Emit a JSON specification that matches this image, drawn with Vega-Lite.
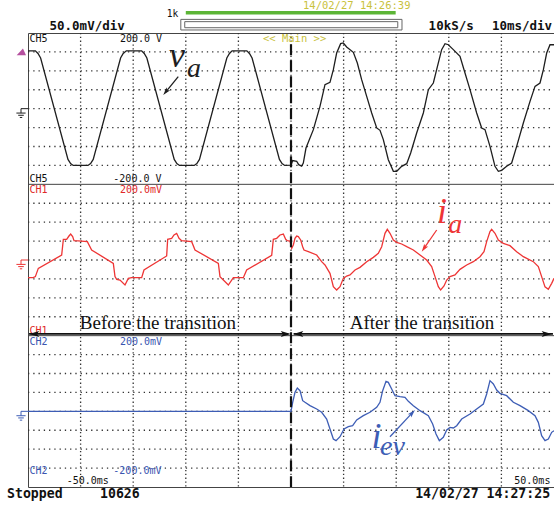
{
"$schema":"https://vega.github.io/schema/vega-lite/v6.json",
"width":526,"height":454,
"autosize":{"type":"none"},
"padding":{"left":28,"top":33,"right":0,"bottom":19},
"background":"white",
"config":{"view":{"stroke":"#444","strokeWidth":1}},
"datasets":{
"vgrid":[{"t":-40},{"t":-30},{"t":-20},{"t":-10},{"t":0},{"t":10},{"t":20},{"t":30},{"t":40}],
"hgrid":[{"d":11},{"d":10},{"d":9},{"d":8},{"d":7},{"d":6},{"d":5},{"d":3},{"d":2},{"d":1},{"d":0},{"d":-1},{"d":-2},{"d":-3},{"d":-5},{"d":-6},{"d":-7},{"d":-8},{"d":-9},{"d":-10},{"d":-11}],
"sep":[{"d":4},{"d":-4}],
"traces":[
{"ch":"CH5","t":-50,"v":153},{"ch":"CH5","t":-48.6,"v":153},{"ch":"CH5","t":-48.1,"v":146},{"ch":"CH5","t":-47.6,"v":134},{"ch":"CH5","t":-42.4,"v":-134},{"ch":"CH5","t":-41.9,"v":-145},{"ch":"CH5","t":-41.4,"v":-150},{"ch":"CH5","t":-38.6,"v":-150},{"ch":"CH5","t":-38.1,"v":-145},{"ch":"CH5","t":-37.6,"v":-134},{"ch":"CH5","t":-32.4,"v":134},{"ch":"CH5","t":-31.9,"v":146},{"ch":"CH5","t":-31.3,"v":153},{"ch":"CH5","t":-28.4,"v":153},{"ch":"CH5","t":-27.9,"v":146},{"ch":"CH5","t":-27.4,"v":134},{"ch":"CH5","t":-22.2,"v":-134},{"ch":"CH5","t":-21.7,"v":-145},{"ch":"CH5","t":-21.2,"v":-150},{"ch":"CH5","t":-18.4,"v":-150},{"ch":"CH5","t":-17.9,"v":-145},{"ch":"CH5","t":-17.4,"v":-134},{"ch":"CH5","t":-12.2,"v":134},{"ch":"CH5","t":-11.7,"v":146},{"ch":"CH5","t":-11.2,"v":153},{"ch":"CH5","t":-8.4,"v":153},{"ch":"CH5","t":-7.9,"v":146},{"ch":"CH5","t":-7.4,"v":134},{"ch":"CH5","t":-2.2,"v":-134},{"ch":"CH5","t":-1.7,"v":-145},{"ch":"CH5","t":-1.2,"v":-150},{"ch":"CH5","t":0,"v":-149},
{"ch":"CH5","t":0.32,"v":-137},{"ch":"CH5","t":1.08,"v":-139},{"ch":"CH5","t":1.46,"v":-148},{"ch":"CH5","t":2.03,"v":-152},{"ch":"CH5","t":2.34,"v":-144},{"ch":"CH5","t":2.85,"v":-104},{"ch":"CH5","t":4.25,"v":-55.5},{"ch":"CH5","t":5.51,"v":6.1},{"ch":"CH5","t":6.46,"v":63.4},{"ch":"CH5","t":7.41,"v":69.6},{"ch":"CH5","t":8.05,"v":103},{"ch":"CH5","t":8.68,"v":147},{"ch":"CH5","t":9.44,"v":171.8},{"ch":"CH5","t":9.95,"v":173.6},{"ch":"CH5","t":10.58,"v":163},{"ch":"CH5","t":11.85,"v":148.9},{"ch":"CH5","t":12.61,"v":120.7},{"ch":"CH5","t":13.43,"v":76.6},{"ch":"CH5","t":14.39,"v":32.6},{"ch":"CH5","t":15.34,"v":-11.4},{"ch":"CH5","t":16.29,"v":-51},{"ch":"CH5","t":16.92,"v":-57.3},{"ch":"CH5","t":17.55,"v":-81.9},{"ch":"CH5","t":18.5,"v":-134.8},{"ch":"CH5","t":19.46,"v":-165.6},{"ch":"CH5","t":20.1,"v":-165.6},{"ch":"CH5","t":21.04,"v":-152.4},{"ch":"CH5","t":22.0,"v":-145.4},{"ch":"CH5","t":22.75,"v":-117},{"ch":"CH5","t":23.89,"v":-64.3},{"ch":"CH5","t":25.16,"v":-11.4},{"ch":"CH5","t":26.11,"v":50.2},{"ch":"CH5","t":27.06,"v":67.8},{"ch":"CH5","t":27.69,"v":103},{"ch":"CH5","t":28.64,"v":156},{"ch":"CH5","t":29.28,"v":171.8},{"ch":"CH5","t":29.91,"v":169},{"ch":"CH5","t":30.86,"v":156},{"ch":"CH5","t":32.13,"v":138.3},{"ch":"CH5","t":33.08,"v":94.3},{"ch":"CH5","t":34.03,"v":50.2},{"ch":"CH5","t":35.3,"v":-11.4},{"ch":"CH5","t":36.25,"v":-51},{"ch":"CH5","t":36.88,"v":-55.5},{"ch":"CH5","t":37.83,"v":-99.6},{"ch":"CH5","t":38.78,"v":-152.4},{"ch":"CH5","t":39.42,"v":-165.6},{"ch":"CH5","t":40.05,"v":-163},{"ch":"CH5","t":41.0,"v":-152.4},{"ch":"CH5","t":41.95,"v":-143.6},{"ch":"CH5","t":42.9,"v":-99.6},{"ch":"CH5","t":44.17,"v":-37.9},{"ch":"CH5","t":45.44,"v":19.4},{"ch":"CH5","t":46.39,"v":59},{"ch":"CH5","t":47.34,"v":67.8},{"ch":"CH5","t":47.98,"v":103},{"ch":"CH5","t":48.61,"v":147},{"ch":"CH5","t":49.24,"v":169},{"ch":"CH5","t":50,"v":169},
{"ch":"CH1","t":-50,"v":-46.7},{"ch":"CH1","t":-49.0,"v":-46.7},{"ch":"CH1","t":-48.6,"v":-44},{"ch":"CH1","t":-48.04,"v":-22},{"ch":"CH1","t":-43.6,"v":13.2},{"ch":"CH1","t":-43.28,"v":54.6},{"ch":"CH1","t":-42.65,"v":54.6},{"ch":"CH1","t":-42.21,"v":63.4},{"ch":"CH1","t":-41.89,"v":68.7},{"ch":"CH1","t":-41.51,"v":61.7},{"ch":"CH1","t":-41.25,"v":51.1},{"ch":"CH1","t":-40.43,"v":50.6},{"ch":"CH1","t":-38.72,"v":48.5},{"ch":"CH1","t":-37.9,"v":26.4},{"ch":"CH1","t":-33.78,"v":-8.8},{"ch":"CH1","t":-33.46,"v":-44},{"ch":"CH1","t":-33.14,"v":-51.1},{"ch":"CH1","t":-32.51,"v":-52.9},{"ch":"CH1","t":-31.56,"v":-66.1},{"ch":"CH1","t":-30.93,"v":-48.5},{"ch":"CH1","t":-30.29,"v":-46.7},{"ch":"CH1","t":-28.39,"v":-46.7},{"ch":"CH1","t":-27.95,"v":-26.4},{"ch":"CH1","t":-23.64,"v":10.6},{"ch":"CH1","t":-23.45,"v":54.6},{"ch":"CH1","t":-22.69,"v":57.3},{"ch":"CH1","t":-22.24,"v":66.1},{"ch":"CH1","t":-21.74,"v":70.5},{"ch":"CH1","t":-21.29,"v":57.3},{"ch":"CH1","t":-20.79,"v":51.1},{"ch":"CH1","t":-18.88,"v":48.5},{"ch":"CH1","t":-18.25,"v":26.4},{"ch":"CH1","t":-13.81,"v":-8.8},{"ch":"CH1","t":-13.5,"v":-44},{"ch":"CH1","t":-12.86,"v":-52.9},{"ch":"CH1","t":-11.91,"v":-66.1},{"ch":"CH1","t":-10.96,"v":-46.7},{"ch":"CH1","t":-9.06,"v":-46.7},{"ch":"CH1","t":-8.43,"v":-26.4},{"ch":"CH1","t":-3.67,"v":12.3},{"ch":"CH1","t":-3.36,"v":54.6},{"ch":"CH1","t":-2.72,"v":57.3},{"ch":"CH1","t":-2.09,"v":66.1},{"ch":"CH1","t":-1.46,"v":68.7},{"ch":"CH1","t":-1.01,"v":54.6},{"ch":"CH1","t":-0.7,"v":51.1},{"ch":"CH1","t":-0.19,"v":50},{"ch":"CH1","t":0.13,"v":30.8},{"ch":"CH1","t":0.44,"v":39.6},{"ch":"CH1","t":0.76,"v":57.3},{"ch":"CH1","t":1.08,"v":63.4},{"ch":"CH1","t":1.39,"v":61.7},{"ch":"CH1","t":1.84,"v":52.9},{"ch":"CH1","t":2.22,"v":35.2},{"ch":"CH1","t":2.47,"v":26.4},{"ch":"CH1","t":3.3,"v":22},{"ch":"CH1","t":4.88,"v":13.2},{"ch":"CH1","t":5.83,"v":-4.4},{"ch":"CH1","t":6.46,"v":-13.2},{"ch":"CH1","t":7.41,"v":-35.2},{"ch":"CH1","t":8.05,"v":-70.5},{"ch":"CH1","t":8.68,"v":-79.3},{"ch":"CH1","t":9.32,"v":-70.5},{"ch":"CH1","t":9.95,"v":-48.5},{"ch":"CH1","t":10.58,"v":-42.3},{"ch":"CH1","t":11.22,"v":-39.6},{"ch":"CH1","t":12.17,"v":-26.4},{"ch":"CH1","t":13.12,"v":-19.4},{"ch":"CH1","t":14.39,"v":-4.4},{"ch":"CH1","t":15.65,"v":7.0},{"ch":"CH1","t":16.6,"v":17.6},{"ch":"CH1","t":17.24,"v":35.2},{"ch":"CH1","t":17.87,"v":70.5},{"ch":"CH1","t":18.31,"v":81.1},{"ch":"CH1","t":18.82,"v":70.5},{"ch":"CH1","t":19.46,"v":52.9},{"ch":"CH1","t":20.1,"v":46.7},{"ch":"CH1","t":21.04,"v":42.3},{"ch":"CH1","t":22.0,"v":35.2},{"ch":"CH1","t":23.26,"v":26.4},{"ch":"CH1","t":24.53,"v":13.2},{"ch":"CH1","t":25.79,"v":0},{"ch":"CH1","t":26.74,"v":-17.6},{"ch":"CH1","t":27.38,"v":-44},{"ch":"CH1","t":28.01,"v":-70.5},{"ch":"CH1","t":28.45,"v":-79.3},{"ch":"CH1","t":29.09,"v":-68.7},{"ch":"CH1","t":29.6,"v":-52.9},{"ch":"CH1","t":30.23,"v":-44},{"ch":"CH1","t":31.18,"v":-39.6},{"ch":"CH1","t":32.13,"v":-24.7},{"ch":"CH1","t":33.4,"v":-13.2},{"ch":"CH1","t":34.66,"v":-4.4},{"ch":"CH1","t":35.93,"v":8.8},{"ch":"CH1","t":36.69,"v":22},{"ch":"CH1","t":37.2,"v":48.5},{"ch":"CH1","t":37.83,"v":74.9},{"ch":"CH1","t":38.15,"v":81.1},{"ch":"CH1","t":38.78,"v":70.5},{"ch":"CH1","t":39.42,"v":52.9},{"ch":"CH1","t":40.37,"v":44},{"ch":"CH1","t":41.63,"v":37.9},{"ch":"CH1","t":42.9,"v":22},{"ch":"CH1","t":44.17,"v":8.8},{"ch":"CH1","t":46.07,"v":-4.4},{"ch":"CH1","t":47.02,"v":-17.6},{"ch":"CH1","t":47.65,"v":-44},{"ch":"CH1","t":48.29,"v":-71},{"ch":"CH1","t":48.92,"v":-77.5},{"ch":"CH1","t":49.56,"v":-61.7},{"ch":"CH1","t":50,"v":-48.5},
{"ch":"CH2","t":-50,"v":0},{"ch":"CH2","t":0,"v":0},{"ch":"CH2","t":0.32,"v":23.8},{"ch":"CH2","t":0.76,"v":50.2},{"ch":"CH2","t":1.2,"v":61.7},{"ch":"CH2","t":1.71,"v":54.6},{"ch":"CH2","t":2.22,"v":28.2},{"ch":"CH2","t":2.66,"v":23.8},{"ch":"CH2","t":3.61,"v":15.0},{"ch":"CH2","t":4.88,"v":6.2},{"ch":"CH2","t":5.83,"v":-2.6},{"ch":"CH2","t":6.78,"v":-20.3},{"ch":"CH2","t":7.41,"v":-46.7},{"ch":"CH2","t":8.05,"v":-73.1},{"ch":"CH2","t":8.56,"v":-77.5},{"ch":"CH2","t":9.32,"v":-67},{"ch":"CH2","t":10.08,"v":-46.7},{"ch":"CH2","t":10.9,"v":-40.5},{"ch":"CH2","t":11.72,"v":-37.9},{"ch":"CH2","t":12.49,"v":-22.9},{"ch":"CH2","t":13.75,"v":-11.5},{"ch":"CH2","t":15.02,"v":-2.6},{"ch":"CH2","t":16.29,"v":10.6},{"ch":"CH2","t":16.92,"v":23.8},{"ch":"CH2","t":17.43,"v":54.6},{"ch":"CH2","t":18.06,"v":79.3},{"ch":"CH2","t":18.5,"v":76.6},{"ch":"CH2","t":19.14,"v":59},{"ch":"CH2","t":19.77,"v":41.4},{"ch":"CH2","t":20.72,"v":38.8},{"ch":"CH2","t":21.67,"v":37.0},{"ch":"CH2","t":22.31,"v":26.4},{"ch":"CH2","t":23.26,"v":15.0},{"ch":"CH2","t":24.53,"v":1.8},{"ch":"CH2","t":26.11,"v":-11.5},{"ch":"CH2","t":26.93,"v":-33.5},{"ch":"CH2","t":27.57,"v":-59.9},{"ch":"CH2","t":28.2,"v":-77.5},{"ch":"CH2","t":28.96,"v":-68.7},{"ch":"CH2","t":29.6,"v":-49.3},{"ch":"CH2","t":30.23,"v":-42.3},{"ch":"CH2","t":30.86,"v":-44},{"ch":"CH2","t":31.5,"v":-37.9},{"ch":"CH2","t":32.45,"v":-20.3},{"ch":"CH2","t":34.03,"v":-7.0},{"ch":"CH2","t":35.3,"v":6.2},{"ch":"CH2","t":36.57,"v":19.4},{"ch":"CH2","t":37.2,"v":45.8},{"ch":"CH2","t":37.83,"v":81.1},{"ch":"CH2","t":38.47,"v":72.2},{"ch":"CH2","t":39.1,"v":56.4},{"ch":"CH2","t":39.73,"v":47.6},{"ch":"CH2","t":41.0,"v":41.4},{"ch":"CH2","t":42.27,"v":23.8},{"ch":"CH2","t":43.54,"v":15.0},{"ch":"CH2","t":45.12,"v":1.8},{"ch":"CH2","t":46.39,"v":-11.5},{"ch":"CH2","t":47.02,"v":-29.1},{"ch":"CH2","t":47.65,"v":-64.3},{"ch":"CH2","t":48.29,"v":-77.5},{"ch":"CH2","t":48.92,"v":-73.1},{"ch":"CH2","t":49.56,"v":-55.5},{"ch":"CH2","t":50,"v":-51.1}
],
"grounds":[{"ch":"CH5","t":-51.33,"d":8},{"ch":"CH1","t":-51.33,"d":0},{"ch":"CH2","t":-51.33,"d":-8}],
"trigger":[{"t":-51.27,"d":11.0}],
"lblBlack":[{"t":-49.71,"d":11.55,"text":"CH5"},{"t":-32.51,"d":11.55,"text":"200.0 V"},{"t":-49.71,"d":4.14,"text":"CH5"},{"t":-33.78,"d":4.14,"text":"-200.0 V"},{"t":-42.64,"d":-11.86,"text":"-50.0ms"},{"t":42.45,"d":-11.86,"text":"50.0ms"}],
"lblRed":[{"t":-49.71,"d":3.55,"text":"CH1"},{"t":-32.51,"d":3.55,"text":"200.0mV"},{"t":-49.71,"d":-3.89,"text":"CH1"}],
"lblBlue":[{"t":-49.71,"d":-4.48,"text":"CH2"},{"t":-32.51,"d":-4.48,"text":"200.0mV"},{"t":-49.71,"d":-11.33,"text":"CH2"},{"t":-33.78,"d":-11.33,"text":"-200.0mV"}],
"lblYellow":[{"t":-5.32,"d":11.55,"text":"<< Main >>"},{"t":2.28,"d":13.27,"text":"14/02/27 14:26:39"}],
"header":[{"t":-45.91,"d":12.16,"text":"50.0mV/div"},{"t":26.16,"d":12.16,"text":"10kS/s"},{"t":38.2,"d":12.16,"text":"10ms/div"}],
"footer":[{"t":-53.99,"d":-12.56,"text":"Stopped"},{"t":-36.31,"d":-12.56,"text":"10626"},{"t":23.6,"d":-12.56,"text":"14/02/27 14:27:25"}],
"small":[{"t":-23.63,"d":12.86,"text":"1k"}],
"bar":[{"t":-20.0,"t2":19.9,"d":13.07}],
"box":[{"t":-20.95,"t2":21.1,"d":12.16,"d2":12.72},{"t":-20.2,"t2":20.3,"d":12.28,"d2":12.6}],
"span":[{"t":-49.8,"t2":-0.5,"d":-3.91},{"t":0.5,"t2":49.8,"d":-3.91}],
"headR":[{"t":-1.0,"d":-3.91},{"t":48.6,"d":-3.91}],
"headL":[{"t":-48.8,"d":-3.91},{"t":1.39,"d":-3.91}],
"trans":[{"t":0}],
"phase":[{"t":-25.3,"d":-3.65,"text":"Before the transition"},{"t":24.9,"d":-3.65,"text":"After the transition"}],
"shafts":[{"ch":"CH5","t":-21.43,"d":9.69,"t2":-23.8,"d2":8.886},{"ch":"CH1","t":27.7,"d":1.586,"t2":25.28,"d2":0.613},{"ch":"CH2","t":18.82,"d":-9.34,"t2":23.05,"d2":-8.08}],
"headVa":[{"t":-23.8,"d":8.886}],
"headIa":[{"t":25.28,"d":0.613}],
"headIev":[{"t":23.05,"d":-8.08}],
"names":[{"ch":"CH5","text":"v","role":"main","t":-23.19,"d":10.22},{"ch":"CH5","text":"a","role":"sub","t":-19.77,"d":9.69},{"ch":"CH1","text":"i","role":"main","t":27.76,"d":1.94},{"ch":"CH1","text":"a","role":"sub","t":29.91,"d":1.41},{"ch":"CH2","text":"i","role":"main","t":15.3,"d":-9.95},{"ch":"CH2","text":"ev","role":"sub","t":16.92,"d":-10.31}]
},
"layer":[
{"data":{"name":"vgrid"},"mark":{"type":"rule","color":"#333","strokeWidth":1.3,"strokeDash":[1.3,2.5]},"encoding":{
 "x":{"field":"t","type":"quantitative","scale":{"domain":[-50,50],"nice":false,"zero":false},"axis":null},
 "y":{"datum":12,"type":"quantitative","scale":{"domain":[-12,12],"nice":false,"zero":false},"axis":null},
 "y2":{"datum":-12}}},
{"data":{"name":"hgrid"},"mark":{"type":"rule","color":"#333","strokeWidth":1.3,"strokeDash":[1.3,3.96]},"encoding":{
 "x":{"datum":-50,"type":"quantitative","axis":null},"x2":{"datum":50},
 "y":{"field":"d","type":"quantitative","axis":null}}},
{"data":{"name":"sep"},"mark":{"type":"rule","color":"#444","strokeWidth":1},"encoding":{
 "x":{"datum":-50,"type":"quantitative","axis":null},"x2":{"datum":50},
 "y":{"field":"d","type":"quantitative","axis":null}}},
{"data":{"name":"traces"},"transform":[{"calculate":"datum.v / 50 + (datum.ch === 'CH5' ? 8 : (datum.ch === 'CH2' ? -8 : 0))","as":"d"}],"mark":{"type":"line","strokeWidth":1.3},"encoding":{
 "x":{"field":"t","type":"quantitative","axis":null},
 "y":{"field":"d","type":"quantitative","axis":null},
 "color":{"field":"ch","type":"nominal","scale":{"domain":["CH5","CH1","CH2"],"range":["#1e1e1e","#ee3535","#3d5db5"]},"legend":null}}},
{"data":{"name":"grounds"},"mark":{"type":"point","shape":"M0,0H1.8M0,0V1.1M-1.15,1.1H1.15M-0.7,1.65H0.7M-0.3,2.2H0.3","size":64,"filled":false,"strokeWidth":1,"opacity":1},"encoding":{
 "x":{"field":"t","type":"quantitative","axis":null},
 "y":{"field":"d","type":"quantitative","axis":null},
 "color":{"field":"ch","type":"nominal","legend":null}}},
{"data":{"name":"trigger"},"mark":{"type":"point","shape":"M-1,0.7L0.35,-0.75L1,0.7Z","size":88,"filled":true,"color":"#b5509f","opacity":1},"encoding":{
 "x":{"field":"t","type":"quantitative","axis":null},
 "y":{"field":"d","type":"quantitative","axis":null}}},
{"data":{"name":"lblBlack"},"mark":{"type":"text","font":"DejaVu Sans Mono","fontSize":10,"align":"left","baseline":"alphabetic","color":"#111"},"encoding":{
 "x":{"field":"t","type":"quantitative","axis":null},"y":{"field":"d","type":"quantitative","axis":null},"text":{"field":"text"}}},
{"data":{"name":"lblRed"},"mark":{"type":"text","font":"DejaVu Sans Mono","fontSize":10,"align":"left","baseline":"alphabetic","color":"#e02828"},"encoding":{
 "x":{"field":"t","type":"quantitative","axis":null},"y":{"field":"d","type":"quantitative","axis":null},"text":{"field":"text"}}},
{"data":{"name":"lblBlue"},"mark":{"type":"text","font":"DejaVu Sans Mono","fontSize":10,"align":"left","baseline":"alphabetic","color":"#3a55b0"},"encoding":{
 "x":{"field":"t","type":"quantitative","axis":null},"y":{"field":"d","type":"quantitative","axis":null},"text":{"field":"text"}}},
{"data":{"name":"lblYellow"},"mark":{"type":"text","font":"DejaVu Sans Mono","fontSize":10.5,"align":"left","baseline":"alphabetic","color":"#c9c23c"},"encoding":{
 "x":{"field":"t","type":"quantitative","axis":null},"y":{"field":"d","type":"quantitative","axis":null},"text":{"field":"text"}}},
{"data":{"name":"header"},"mark":{"type":"text","font":"DejaVu Sans Mono","fontSize":12.5,"fontWeight":"bold","align":"left","baseline":"alphabetic","color":"#111"},"encoding":{
 "x":{"field":"t","type":"quantitative","axis":null},"y":{"field":"d","type":"quantitative","axis":null},"text":{"field":"text"}}},
{"data":{"name":"footer"},"mark":{"type":"text","font":"DejaVu Sans Mono","fontSize":13.2,"fontWeight":"bold","align":"left","baseline":"alphabetic","color":"#111"},"encoding":{
 "x":{"field":"t","type":"quantitative","axis":null},"y":{"field":"d","type":"quantitative","axis":null},"text":{"field":"text"}}},
{"data":{"name":"small"},"mark":{"type":"text","font":"DejaVu Sans Mono","fontSize":9.6,"align":"left","baseline":"alphabetic","color":"#111"},"encoding":{
 "x":{"field":"t","type":"quantitative","axis":null},"y":{"field":"d","type":"quantitative","axis":null},"text":{"field":"text"}}},
{"data":{"name":"bar"},"mark":{"type":"rule","color":"#5cb536","strokeWidth":3.3},"encoding":{
 "x":{"field":"t","type":"quantitative","axis":null},"x2":{"field":"t2"},"y":{"field":"d","type":"quantitative","axis":null}}},
{"data":{"name":"box"},"mark":{"type":"rect","filled":false,"stroke":"#666","strokeWidth":1},"encoding":{
 "x":{"field":"t","type":"quantitative","axis":null},"x2":{"field":"t2"},"y":{"field":"d","type":"quantitative","axis":null},"y2":{"field":"d2"}}},
{"data":{"name":"span"},"mark":{"type":"rule","color":"#111","strokeWidth":1.8},"encoding":{
 "x":{"field":"t","type":"quantitative","axis":null},"x2":{"field":"t2"},"y":{"field":"d","type":"quantitative","axis":null}}},
{"data":{"name":"headR"},"mark":{"type":"point","shape":"M-1,-0.6L1,0L-1,0.6L-0.55,0Z","size":100,"filled":true,"color":"#111","opacity":1,"angle":0},"encoding":{
 "x":{"field":"t","type":"quantitative","axis":null},"y":{"field":"d","type":"quantitative","axis":null}}},
{"data":{"name":"headL"},"mark":{"type":"point","shape":"M-1,-0.6L1,0L-1,0.6L-0.55,0Z","size":100,"filled":true,"color":"#111","opacity":1,"angle":180},"encoding":{
 "x":{"field":"t","type":"quantitative","axis":null},"y":{"field":"d","type":"quantitative","axis":null}}},
{"data":{"name":"trans"},"mark":{"type":"rule","color":"#111","strokeWidth":2.2,"strokeDash":[11,5]},"encoding":{
 "x":{"field":"t","type":"quantitative","axis":null},"y":{"datum":11.4,"type":"quantitative","axis":null},"y2":{"datum":-12}}},
{"data":{"name":"phase"},"mark":{"type":"text","font":"Liberation Serif","fontSize":19,"align":"center","baseline":"alphabetic","color":"#111"},"encoding":{
 "x":{"field":"t","type":"quantitative","axis":null},"y":{"field":"d","type":"quantitative","axis":null},"text":{"field":"text"}}},
{"data":{"name":"shafts"},"mark":{"type":"rule","strokeWidth":1.3},"encoding":{
 "x":{"field":"t","type":"quantitative","axis":null},"x2":{"field":"t2"},"y":{"field":"d","type":"quantitative","axis":null},"y2":{"field":"d2"},
 "color":{"field":"ch","type":"nominal","legend":null}}},
{"data":{"name":"headVa"},"mark":{"type":"point","shape":"M-1,-0.6L1,0L-1,0.6L-0.55,0Z","size":64,"filled":true,"color":"#1e1e1e","opacity":1,"angle":129.4},"encoding":{
 "x":{"field":"t","type":"quantitative","axis":null},"y":{"field":"d","type":"quantitative","axis":null}}},
{"data":{"name":"headIa"},"mark":{"type":"point","shape":"M-1,-0.6L1,0L-1,0.6L-0.55,0Z","size":64,"filled":true,"color":"#ee3535","opacity":1,"angle":124.6},"encoding":{
 "x":{"field":"t","type":"quantitative","axis":null},"y":{"field":"d","type":"quantitative","axis":null}}},
{"data":{"name":"headIev"},"mark":{"type":"point","shape":"M-1,-0.6L1,0L-1,0.6L-0.55,0Z","size":64,"filled":true,"color":"#3d5db5","opacity":1,"angle":313.1},"encoding":{
 "x":{"field":"t","type":"quantitative","axis":null},"y":{"field":"d","type":"quantitative","axis":null}}},
{"data":{"name":"names"},"mark":{"type":"text","font":"Liberation Serif","fontStyle":"italic","align":"left","baseline":"alphabetic"},"encoding":{
 "x":{"field":"t","type":"quantitative","axis":null},"y":{"field":"d","type":"quantitative","axis":null},"text":{"field":"text"},
 "color":{"field":"ch","type":"nominal","legend":null},
 "size":{"field":"role","type":"ordinal","scale":{"domain":["main","sub"],"range":[36,28]},"legend":null}}}
]
}
